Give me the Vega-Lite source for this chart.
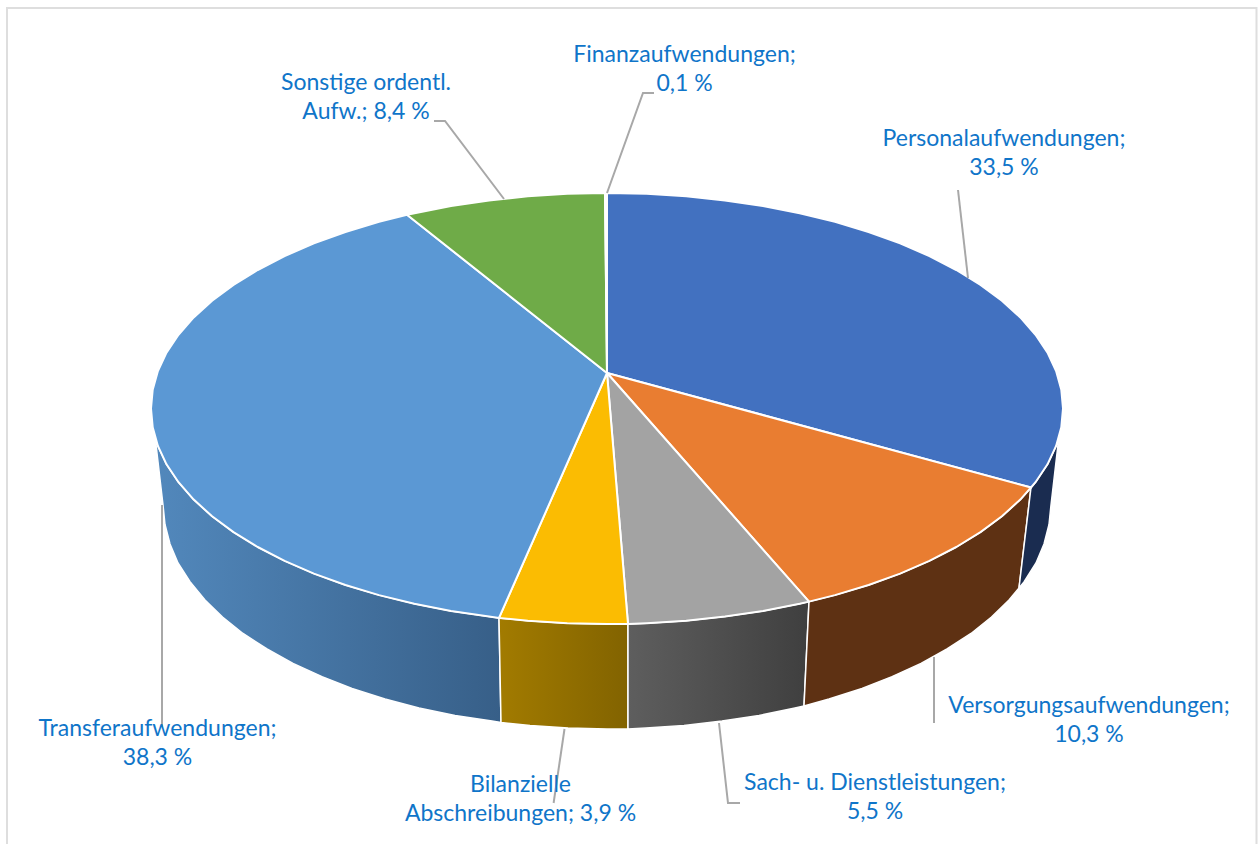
{"$schema":"https://vega.github.io/schema/vega-lite/v6.json","width":1258,"height":844,"autosize":{"type":"none"},"padding":0,"background":"white","config":{"view":{"stroke":null}},
"datasets":{
"frame":[{"x":7,"y":850,"i":1},{"x":7,"y":8,"i":2},{"x":1256.5,"y":8,"i":3},{"x":1256.5,"y":850,"i":4}],
"slices":[
{"slice":"Personalaufwendungen","value":33.5,"label":"Personalaufwendungen;\n33,5 %","lx":1004,"ly":139},
{"slice":"Versorgungsaufwendungen","value":10.3,"label":"Versorgungsaufwendungen;\n10,3 %","lx":1089,"ly":706},
{"slice":"Sach- u. Dienstleistungen","value":5.5,"label":"Sach- u. Dienstleistungen;\n5,5 %","lx":875,"ly":783},
{"slice":"Bilanzielle Abschreibungen","value":3.9,"label":"Bilanzielle\nAbschreibungen; 3,9 %","lx":520.5,"ly":785},
{"slice":"Transferaufwendungen","value":38.3,"label":"Transferaufwendungen;\n38,3 %","lx":157.5,"ly":729},
{"slice":"Sonstige ordentl. Aufw.","value":8.4,"label":"Sonstige ordentl.\nAufw.; 8,4 %","lx":366,"ly":83},
{"slice":"Finanzaufwendungen","value":0.1,"label":"Finanzaufwendungen;\n0,1 %","lx":684.5,"ly":55}],
"leaders":[
{"slice":"F","i":1,"x":607,"y":193},{"slice":"F","i":2,"x":643,"y":93},{"slice":"F","i":3,"x":654,"y":93},
{"slice":"So","i":1,"x":504,"y":199},{"slice":"So","i":2,"x":445,"y":121},{"slice":"So","i":3,"x":434,"y":121},
{"slice":"P","i":1,"x":968,"y":278},{"slice":"P","i":2,"x":958,"y":190},
{"slice":"V","i":1,"x":934,"y":657},{"slice":"V","i":2,"x":934,"y":723},
{"slice":"Sa","i":1,"x":719,"y":723},{"slice":"Sa","i":2,"x":728,"y":803},{"slice":"Sa","i":3,"x":740,"y":803},
{"slice":"B","i":1,"x":564.5,"y":729},{"slice":"B","i":2,"x":553.6,"y":803},
{"slice":"T","i":1,"x":162,"y":505},{"slice":"T","i":2,"x":162,"y":727}],
"walls":[
{"slice":"Personal","i":1,"x":1059,"y":436},{"slice":"Personal","i":2,"x":1056.1,"y":445.9},{"slice":"Personal","i":3,"x":1047.5,"y":464.3},{"slice":"Personal","i":4,"x":1035.5,"y":482.2},{"slice":"Personal","i":5,"x":1031,"y":487.5},{"slice":"Personal","i":6,"x":1019,"y":588},{"slice":"Personal","i":7,"x":1024,"y":582},{"slice":"Personal","i":8,"x":1036,"y":563},{"slice":"Personal","i":9,"x":1044,"y":544},{"slice":"Personal","i":10,"x":1049,"y":524.5},{"slice":"Personal","i":11,"x":1051,"y":505},{"slice":"Personal","i":12,"x":1059,"y":436},
{"slice":"Versorgung","i":1,"x":1031,"y":487.5},{"slice":"Versorgung","i":2,"x":1020.3,"y":499.6},{"slice":"Versorgung","i":3,"x":1001.9,"y":516.3},{"slice":"Versorgung","i":4,"x":980.5,"y":532.1},{"slice":"Versorgung","i":5,"x":956.3,"y":547},{"slice":"Versorgung","i":6,"x":929.4,"y":560.9},{"slice":"Versorgung","i":7,"x":900.1,"y":573.6},{"slice":"Versorgung","i":8,"x":868.6,"y":585},{"slice":"Versorgung","i":9,"x":835,"y":595.1},{"slice":"Versorgung","i":10,"x":809,"y":601.6},{"slice":"Versorgung","i":11,"x":804,"y":706},{"slice":"Versorgung","i":12,"x":829,"y":699},{"slice":"Versorgung","i":13,"x":862,"y":688.5},{"slice":"Versorgung","i":14,"x":892,"y":676.6},{"slice":"Versorgung","i":15,"x":921,"y":663.4},{"slice":"Versorgung","i":16,"x":947,"y":649},{"slice":"Versorgung","i":17,"x":971,"y":633.5},{"slice":"Versorgung","i":18,"x":991.5,"y":617},{"slice":"Versorgung","i":19,"x":1009,"y":600},{"slice":"Versorgung","i":20,"x":1019,"y":588},{"slice":"Versorgung","i":21,"x":1031,"y":487.5},
{"slice":"Sach","i":1,"x":809,"y":601.6},{"slice":"Sach","i":2,"x":799.7,"y":603.8},{"slice":"Sach","i":3,"x":763,"y":611},{"slice":"Sach","i":4,"x":725,"y":616.6},{"slice":"Sach","i":5,"x":686.2,"y":620.7},{"slice":"Sach","i":6,"x":646.7,"y":623.2},{"slice":"Sach","i":7,"x":628,"y":624},{"slice":"Sach","i":8,"x":628,"y":729},{"slice":"Sach","i":9,"x":646,"y":728},{"slice":"Sach","i":10,"x":684,"y":725.6},{"slice":"Sach","i":11,"x":722,"y":721},{"slice":"Sach","i":12,"x":759,"y":715.5},{"slice":"Sach","i":13,"x":795,"y":708},{"slice":"Sach","i":14,"x":804,"y":706},{"slice":"Sach","i":15,"x":809,"y":601.6},
{"slice":"Bilanz","i":1,"x":628,"y":624},{"slice":"Bilanz","i":2,"x":607,"y":624},{"slice":"Bilanz","i":3,"x":567.3,"y":623.2},{"slice":"Bilanz","i":4,"x":527.8,"y":620.7},{"slice":"Bilanz","i":5,"x":499,"y":617.9},{"slice":"Bilanz","i":6,"x":501,"y":722.5},{"slice":"Bilanz","i":7,"x":530,"y":725.6},{"slice":"Bilanz","i":8,"x":568,"y":728},{"slice":"Bilanz","i":9,"x":607,"y":729},{"slice":"Bilanz","i":10,"x":628,"y":729},{"slice":"Bilanz","i":11,"x":628,"y":624},
{"slice":"Transfer","i":1,"x":499,"y":617.9},{"slice":"Transfer","i":2,"x":489,"y":616.6},{"slice":"Transfer","i":3,"x":451,"y":611},{"slice":"Transfer","i":4,"x":414.3,"y":603.8},{"slice":"Transfer","i":5,"x":379,"y":595.1},{"slice":"Transfer","i":6,"x":345.4,"y":585},{"slice":"Transfer","i":7,"x":313.9,"y":573.6},{"slice":"Transfer","i":8,"x":284.6,"y":560.9},{"slice":"Transfer","i":9,"x":257.7,"y":547},{"slice":"Transfer","i":10,"x":233.5,"y":532.1},{"slice":"Transfer","i":11,"x":212.1,"y":516.3},{"slice":"Transfer","i":12,"x":193.7,"y":499.6},{"slice":"Transfer","i":13,"x":178.5,"y":482.2},{"slice":"Transfer","i":14,"x":166.5,"y":464.3},{"slice":"Transfer","i":15,"x":157.9,"y":445.9},{"slice":"Transfer","i":16,"x":155,"y":436},{"slice":"Transfer","i":17,"x":163,"y":505},{"slice":"Transfer","i":18,"x":165,"y":524.5},{"slice":"Transfer","i":19,"x":170,"y":544},{"slice":"Transfer","i":20,"x":178,"y":563},{"slice":"Transfer","i":21,"x":190,"y":581.6},{"slice":"Transfer","i":22,"x":205,"y":600},{"slice":"Transfer","i":23,"x":222.5,"y":617},{"slice":"Transfer","i":24,"x":243,"y":633.5},{"slice":"Transfer","i":25,"x":267,"y":649},{"slice":"Transfer","i":26,"x":293,"y":663.4},{"slice":"Transfer","i":27,"x":322,"y":676.6},{"slice":"Transfer","i":28,"x":352,"y":688.5},{"slice":"Transfer","i":29,"x":385,"y":699},{"slice":"Transfer","i":30,"x":419,"y":708},{"slice":"Transfer","i":31,"x":455,"y":715.5},{"slice":"Transfer","i":32,"x":492,"y":721},{"slice":"Transfer","i":33,"x":501,"y":722.5},{"slice":"Transfer","i":34,"x":499,"y":617.9}],
"tops":[
{"slice":"Personal","i":1,"x":607,"y":373},{"slice":"Personal","i":2,"x":607,"y":193},{"slice":"Personal","i":3,"x":646.7,"y":193.8},{"slice":"Personal","i":4,"x":686.2,"y":196.3},{"slice":"Personal","i":5,"x":725,"y":200.4},{"slice":"Personal","i":6,"x":763,"y":206},{"slice":"Personal","i":7,"x":799.7,"y":213.2},{"slice":"Personal","i":8,"x":835,"y":221.9},{"slice":"Personal","i":9,"x":868.6,"y":232},{"slice":"Personal","i":10,"x":900.1,"y":243.4},{"slice":"Personal","i":11,"x":929.4,"y":256.1},{"slice":"Personal","i":12,"x":956.3,"y":270},{"slice":"Personal","i":13,"x":980.5,"y":284.9},{"slice":"Personal","i":14,"x":1001.9,"y":300.7},{"slice":"Personal","i":15,"x":1020.3,"y":317.4},{"slice":"Personal","i":16,"x":1035.5,"y":334.8},{"slice":"Personal","i":17,"x":1047.5,"y":352.7},{"slice":"Personal","i":18,"x":1056.1,"y":371.1},{"slice":"Personal","i":19,"x":1061.3,"y":389.7},{"slice":"Personal","i":20,"x":1063,"y":408.5},{"slice":"Personal","i":21,"x":1061.3,"y":427.3},{"slice":"Personal","i":22,"x":1056.1,"y":445.9},{"slice":"Personal","i":23,"x":1047.5,"y":464.3},{"slice":"Personal","i":24,"x":1035.5,"y":482.2},{"slice":"Personal","i":25,"x":1031,"y":487.5},{"slice":"Personal","i":26,"x":607,"y":373},
{"slice":"Versorgung","i":1,"x":607,"y":373},{"slice":"Versorgung","i":2,"x":1031,"y":487.5},{"slice":"Versorgung","i":3,"x":1020.3,"y":499.6},{"slice":"Versorgung","i":4,"x":1001.9,"y":516.3},{"slice":"Versorgung","i":5,"x":980.5,"y":532.1},{"slice":"Versorgung","i":6,"x":956.3,"y":547},{"slice":"Versorgung","i":7,"x":929.4,"y":560.9},{"slice":"Versorgung","i":8,"x":900.1,"y":573.6},{"slice":"Versorgung","i":9,"x":868.6,"y":585},{"slice":"Versorgung","i":10,"x":835,"y":595.1},{"slice":"Versorgung","i":11,"x":809,"y":601.6},{"slice":"Versorgung","i":12,"x":607,"y":373},
{"slice":"Sach","i":1,"x":607,"y":373},{"slice":"Sach","i":2,"x":809,"y":601.6},{"slice":"Sach","i":3,"x":799.7,"y":603.8},{"slice":"Sach","i":4,"x":763,"y":611},{"slice":"Sach","i":5,"x":725,"y":616.6},{"slice":"Sach","i":6,"x":686.2,"y":620.7},{"slice":"Sach","i":7,"x":646.7,"y":623.2},{"slice":"Sach","i":8,"x":628,"y":624},{"slice":"Sach","i":9,"x":607,"y":373},
{"slice":"Bilanz","i":1,"x":607,"y":373},{"slice":"Bilanz","i":2,"x":628,"y":624},{"slice":"Bilanz","i":3,"x":607,"y":624},{"slice":"Bilanz","i":4,"x":567.3,"y":623.2},{"slice":"Bilanz","i":5,"x":527.8,"y":620.7},{"slice":"Bilanz","i":6,"x":499,"y":617.9},{"slice":"Bilanz","i":7,"x":607,"y":373},
{"slice":"Transfer","i":1,"x":607,"y":373},{"slice":"Transfer","i":2,"x":499,"y":617.9},{"slice":"Transfer","i":3,"x":489,"y":616.6},{"slice":"Transfer","i":4,"x":451,"y":611},{"slice":"Transfer","i":5,"x":414.3,"y":603.8},{"slice":"Transfer","i":6,"x":379,"y":595.1},{"slice":"Transfer","i":7,"x":345.4,"y":585},{"slice":"Transfer","i":8,"x":313.9,"y":573.6},{"slice":"Transfer","i":9,"x":284.6,"y":560.9},{"slice":"Transfer","i":10,"x":257.7,"y":547},{"slice":"Transfer","i":11,"x":233.5,"y":532.1},{"slice":"Transfer","i":12,"x":212.1,"y":516.3},{"slice":"Transfer","i":13,"x":193.7,"y":499.6},{"slice":"Transfer","i":14,"x":178.5,"y":482.2},{"slice":"Transfer","i":15,"x":166.5,"y":464.3},{"slice":"Transfer","i":16,"x":157.9,"y":445.9},{"slice":"Transfer","i":17,"x":152.7,"y":427.3},{"slice":"Transfer","i":18,"x":151,"y":408.5},{"slice":"Transfer","i":19,"x":152.7,"y":389.7},{"slice":"Transfer","i":20,"x":157.9,"y":371.1},{"slice":"Transfer","i":21,"x":166.5,"y":352.7},{"slice":"Transfer","i":22,"x":178.5,"y":334.8},{"slice":"Transfer","i":23,"x":193.7,"y":317.4},{"slice":"Transfer","i":24,"x":212.1,"y":300.7},{"slice":"Transfer","i":25,"x":233.5,"y":284.9},{"slice":"Transfer","i":26,"x":257.7,"y":270},{"slice":"Transfer","i":27,"x":284.6,"y":256.1},{"slice":"Transfer","i":28,"x":313.9,"y":243.4},{"slice":"Transfer","i":29,"x":345.4,"y":232},{"slice":"Transfer","i":30,"x":379,"y":221.9},{"slice":"Transfer","i":31,"x":407,"y":214.8},{"slice":"Transfer","i":32,"x":607,"y":373},
{"slice":"Sonstige","i":1,"x":607,"y":373},{"slice":"Sonstige","i":2,"x":407,"y":214.8},{"slice":"Sonstige","i":3,"x":451,"y":206},{"slice":"Sonstige","i":4,"x":489,"y":200.4},{"slice":"Sonstige","i":5,"x":527.8,"y":196.3},{"slice":"Sonstige","i":6,"x":567.3,"y":193.8},{"slice":"Sonstige","i":7,"x":605,"y":193},{"slice":"Sonstige","i":8,"x":607,"y":373},
{"slice":"Finanz","i":1,"x":607,"y":373},{"slice":"Finanz","i":2,"x":605,"y":193},{"slice":"Finanz","i":3,"x":607,"y":193},{"slice":"Finanz","i":4,"x":607,"y":373}]
},
"layer":[
{"data":{"name":"frame"},"mark":{"type":"line","stroke":"#DEDEDE","strokeWidth":2,"clip":true},"encoding":{"x":{"field":"x","type":"quantitative","scale":{"domain":[0,1258],"nice":false,"zero":false},"axis":null},"y":{"field":"y","type":"quantitative","scale":{"domain":[844,0],"nice":false,"zero":false},"axis":null},"order":{"field":"i"}}},
{"data":{"name":"walls"},"transform":[{"filter":"datum.slice==='Transfer'"}],"mark":{"type":"line","stroke":"white","strokeWidth":1.5,"fill":{"gradient":"linear","x1":0,"x2":1,"y1":0,"y2":0,"stops":[{"offset":0,"color":"#5288BC"},{"offset":1,"color":"#375F88"}]}},"encoding":{"x":{"field":"x","type":"quantitative","axis":null},"y":{"field":"y","type":"quantitative","axis":null},"order":{"field":"i"}}},
{"data":{"name":"walls"},"transform":[{"filter":"datum.slice==='Bilanz'"}],"mark":{"type":"line","stroke":"white","strokeWidth":1.5,"fill":{"gradient":"linear","x1":0,"x2":1,"y1":0,"y2":0,"stops":[{"offset":0,"color":"#A27B00"},{"offset":1,"color":"#826300"}]}},"encoding":{"x":{"field":"x","type":"quantitative","axis":null},"y":{"field":"y","type":"quantitative","axis":null},"order":{"field":"i"}}},
{"data":{"name":"walls"},"transform":[{"filter":"datum.slice==='Sach'"}],"mark":{"type":"line","stroke":"white","strokeWidth":1.5,"fill":{"gradient":"linear","x1":0,"x2":1,"y1":0,"y2":0,"stops":[{"offset":0,"color":"#5E5E5E"},{"offset":1,"color":"#3F3F3F"}]}},"encoding":{"x":{"field":"x","type":"quantitative","axis":null},"y":{"field":"y","type":"quantitative","axis":null},"order":{"field":"i"}}},
{"data":{"name":"walls"},"transform":[{"filter":"datum.slice==='Versorgung'"}],"mark":{"type":"line","stroke":"white","strokeWidth":1.5,"fill":"#5E3113"},"encoding":{"x":{"field":"x","type":"quantitative","axis":null},"y":{"field":"y","type":"quantitative","axis":null},"order":{"field":"i"}}},
{"data":{"name":"walls"},"transform":[{"filter":"datum.slice==='Personal'"}],"mark":{"type":"line","stroke":"white","strokeWidth":1.5,"fill":"#1A2C50"},"encoding":{"x":{"field":"x","type":"quantitative","axis":null},"y":{"field":"y","type":"quantitative","axis":null},"order":{"field":"i"}}},
{"data":{"name":"tops"},"mark":{"type":"line","stroke":"white","strokeWidth":2,"strokeJoin":"round"},"encoding":{"x":{"field":"x","type":"quantitative","axis":null},"y":{"field":"y","type":"quantitative","axis":null},"order":{"field":"i"},"fill":{"field":"slice","type":"nominal","legend":null,"scale":{"domain":["Personal","Versorgung","Sach","Bilanz","Transfer","Sonstige","Finanz"],"range":["#4271C0","#E97D31","#A3A3A3","#FBBC02","#5B98D4","#6FAB48","#264478"]}}}},
{"data":{"name":"leaders"},"mark":{"type":"line","stroke":"#A8A8A8","strokeWidth":2},"encoding":{"x":{"field":"x","type":"quantitative","axis":null},"y":{"field":"y","type":"quantitative","axis":null},"detail":{"field":"slice"},"order":{"field":"i"}}},
{"data":{"name":"slices"},"mark":{"type":"text","font":"Lato","fontSize":23,"lineHeight":29,"lineBreak":"\n","align":"center","baseline":"middle","fill":"#0F75C9"},"encoding":{"x":{"field":"lx","type":"quantitative","axis":null},"y":{"field":"ly","type":"quantitative","axis":null},"text":{"field":"label"}}}
]}
